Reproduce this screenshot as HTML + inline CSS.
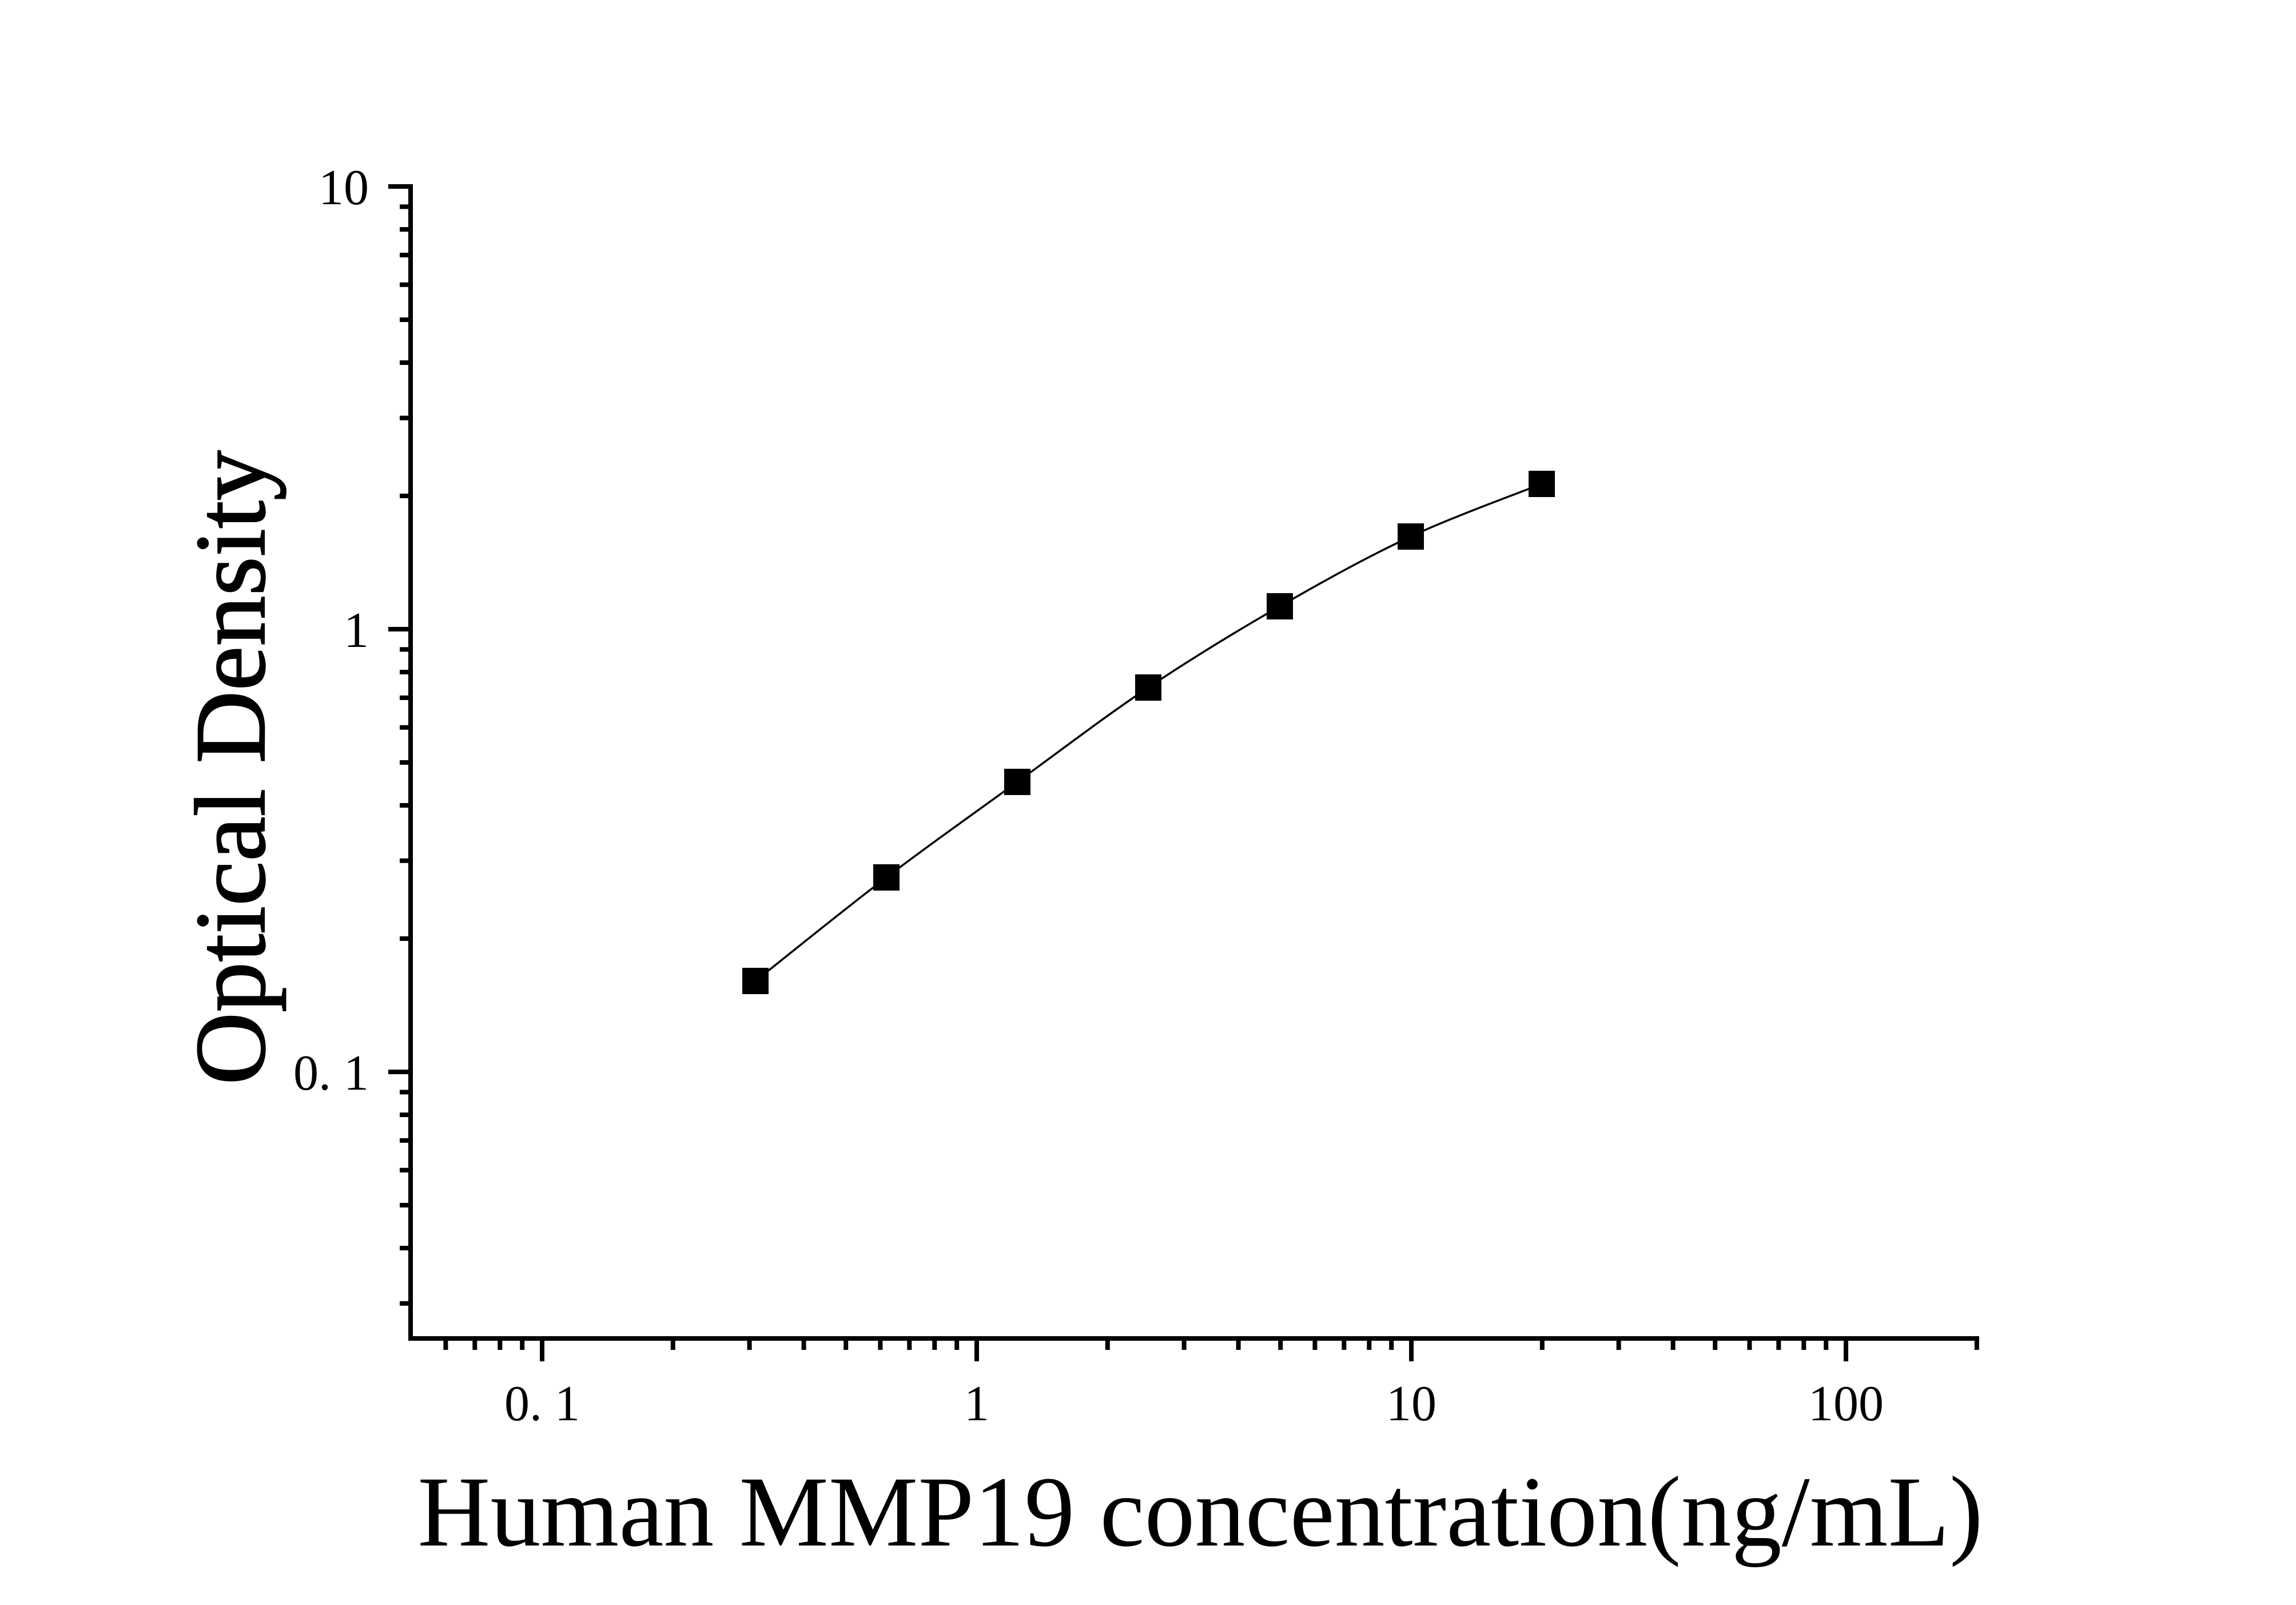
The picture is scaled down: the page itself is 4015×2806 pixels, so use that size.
<!DOCTYPE html>
<html><head><meta charset="utf-8"><style>html,body{margin:0;padding:0;background:#fff}svg{display:block}</style></head>
<body>
<svg width="4015" height="2806" viewBox="0 0 4015 2806" xmlns="http://www.w3.org/2000/svg" font-family="'Liberation Serif', serif">
<rect width="4015" height="2806" fill="#fff"/>
<g stroke="#000" stroke-width="8" fill="none">
<path d="M718,322V2344M714,2340H3461"/>
<path d="M679,326H718M679,1100H718M679,1874H718"/>
<path d="M699,867H718M699,730.7H718M699,634H718M699,559H718M699,497.7H718M699,445.9H718M699,401H718M699,361.4H718
M699,1641H718M699,1504.7H718M699,1408H718M699,1333H718M699,1271.7H718M699,1219.9H718M699,1175H718M699,1135.4H718
M699,2278.7H718M699,2182H718M699,2107H718M699,2045.7H718M699,1993.9H718M699,1949H718M699,1909.4H718"/>
<path d="M948,2340V2380M1708,2340V2380M2468,2340V2380M3228,2340V2380"/>
<path d="M779.4,2340V2360M830.3,2340V2360M874.3,2340V2360M913.2,2340V2360
M1176.8,2340V2360M1310.6,2340V2360M1405.6,2340V2360M1479.2,2340V2360M1539.4,2340V2360M1590.3,2340V2360M1634.3,2340V2360M1673.2,2340V2360
M1936.8,2340V2360M2070.6,2340V2360M2165.6,2340V2360M2239.2,2340V2360M2299.4,2340V2360M2350.3,2340V2360M2394.3,2340V2360M2433.2,2340V2360
M2696.8,2340V2360M2830.6,2340V2360M2925.6,2340V2360M2999.2,2340V2360M3059.4,2340V2360M3110.3,2340V2360M3154.3,2340V2360M3193.2,2340V2360
M3456.8,2340V2360"/>
</g>
<g fill="#000" font-size="88">
<text x="645" y="357" text-anchor="end">10</text>
<text x="645" y="1131" text-anchor="end">1</text>
<text x="645" y="1905" text-anchor="end">0. 1</text>
<text x="948" y="2483" text-anchor="middle">0. 1</text>
<text x="1708" y="2483" text-anchor="middle">1</text>
<text x="2468" y="2483" text-anchor="middle">10</text>
<text x="3228" y="2483" text-anchor="middle">100</text>
</g>
<path d="M1321,1715 C1359.2,1684.8 1473.7,1592 1550,1534 C1626.3,1476 1702.7,1422.3 1779,1367 C1855.3,1311.7 1931.5,1253.2 2008,1202 C2084.5,1150.8 2161.5,1104 2238,1060 C2314.5,1016 2390.7,973.7 2467,938 C2543.3,902.3 2657.8,861.3 2696,846" stroke="#000" stroke-width="3.5" fill="none"/>
<g fill="#000">
<rect x="1298" y="1692" width="46" height="46"/>
<rect x="1527" y="1511" width="46" height="46"/>
<rect x="1756" y="1344" width="46" height="46"/>
<rect x="1985" y="1179" width="46" height="46"/>
<rect x="2215" y="1037" width="46" height="46"/>
<rect x="2444" y="915" width="46" height="46"/>
<rect x="2673" y="823" width="46" height="46"/>
</g>
<text x="2099" y="2702" font-size="176" text-anchor="middle" fill="#000">Human MMP19 concentration(ng/mL)</text>
<text transform="translate(462,1342) rotate(-90)" font-size="176" text-anchor="middle" fill="#000" stroke="#000" stroke-width="2">Optical Density</text>
</svg>
</body></html>
